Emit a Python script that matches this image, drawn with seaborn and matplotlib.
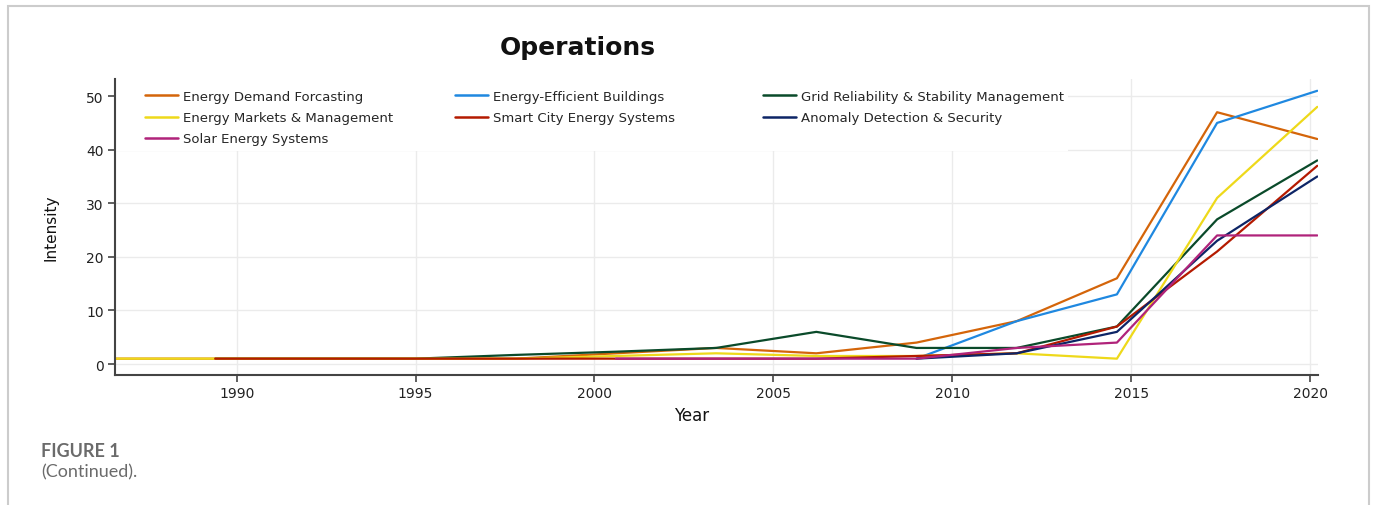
import numpy as np
import pandas as pd
import matplotlib
matplotlib.use("Agg")
import matplotlib.pyplot as plt
from matplotlib.lines import Line2D
from matplotlib.legend import Legend
from matplotlib.patches import Rectangle
import seaborn as sns

nan = np.nan
years = [1986.6, 1989.4, 1992.2, 1995.0, 1997.8, 2000.6, 2003.4,
         2006.2, 2009.0, 2011.8, 2014.6, 2017.4, 2020.2]

demand = [1, 1, 1, 1, 1, 2, 3, 2, 4, 8, 16, 47, 42]
efficient = [nan, nan, nan, nan, nan, nan, nan, nan, 1, 8, 13, 45, 51]
grid_rel = [nan, 1, 1, 1, 1.7, 2.3, 3, 6, 3, 3, 7, 27, 38]
markets = [1, 1, 1, 1, 1, 1.5, 2, 1.5, 1.5, 2, 1, 31, 48]
smart_city = [nan, 1, 1, 1, 1, 1, 1, 1, 1.5, 2, 7, 21, 37]
anomaly = [nan, nan, nan, nan, nan, nan, nan, nan, 1, 2, 6, 23, 35]
solar = [nan, nan, nan, nan, nan, 1, 1, 1, 1, 3, 4, 24, 24]

topics = ["Energy Demand Forcasting", "Energy-Efficient Buildings",
          "Grid Reliability & Stability Management", "Energy Markets & Management",
          "Smart City Energy Systems", "Anomaly Detection & Security",
          "Solar Energy Systems"]
series = [demand, efficient, grid_rel, markets, smart_city, anomaly, solar]
colors = ["#d4650a", "#1f88e0", "#0a4a2a", "#eed91a", "#b41a00", "#0d2566", "#b0237a"]
palette = dict(zip(topics, colors))

frames = []
for name, vals in zip(topics, series):
    frames.append(pd.DataFrame({"Year": years, "Intensity": vals, "Topic": name}))
df = pd.concat(frames).dropna()

sns.set_style("whitegrid")
plt.rcParams["font.family"] = ["DejaVu Sans"]

fig = plt.figure(figsize=(13.75, 5.06), dpi=100)
ax = fig.add_axes([115/1375, 1 - 376/506, 1203/1375, 296/506])

sns.lineplot(data=df, x="Year", y="Intensity", hue="Topic", hue_order=topics,
             palette=palette, linewidth=1.6, legend=False, ax=ax)

ax.set_xlim(1986.6, 2020.22)
ax.set_ylim(-2.05, 53.2)
ax.set_xticks([1990, 1995, 2000, 2005, 2010, 2015, 2020])
ax.set_yticks([0, 10, 20, 30, 40, 50])
ax.grid(color="#ebebeb", linewidth=1.0)
for s in ["top", "right"]:
    ax.spines[s].set_visible(False)
for s in ["left", "bottom"]:
    ax.spines[s].set_color("#444444")
    ax.spines[s].set_linewidth(1.5)
ax.tick_params(axis="both", which="both", length=5, width=1.2, color="#444444",
               labelsize=10, labelcolor="#222222", pad=3, bottom=True, left=True)

ax.set_xlabel("Year", fontsize=12, color="#111111")
ax.xaxis.set_label_coords((692 - 115) / 1203, -0.105)
ax.set_ylabel("Intensity", fontsize=11, color="#111111")
ax.yaxis.set_label_coords((58 - 115) / 1203, 0.5)

# white box behind the legend (hides gridlines)
ax.add_patch(Rectangle((0, (376 - 152) / 296), (1068 - 115) / 1203, 1,
                       transform=ax.transAxes, facecolor="white",
                       edgecolor="none", zorder=1, clip_on=False))

cols = [[0, 3, 6], [1, 4], [2, 5]]
col_x = [145, 455, 763]
for idx, cx in zip(cols, col_x):
    handles = [Line2D([0], [0], color=colors[i], lw=1.8) for i in idx]
    labels = [topics[i] for i in idx]
    leg = Legend(ax, handles, labels, loc="upper left",
                 bbox_to_anchor=((cx - 115) / 1203, (376 - 91) / 296),
                 frameon=False, fontsize=9.5, handlelength=2.5,
                 handletextpad=0.4, labelspacing=0.62, borderpad=0,
                 borderaxespad=0)
    leg.set_zorder(5)
    ax.add_artist(leg)

fig.text(578 / 1375, 1 - 48 / 506, "Operations", fontsize=18, fontweight="bold",
         ha="center", va="center", color="#111111")

fig.text(41 / 1375, 1 - 452 / 506, "FIGURE 1", fontsize=13, fontweight="bold",
         family="Lato", color="#6b6b6b", ha="left", va="center")
fig.text(41 / 1375, 1 - 472 / 506, "(Continued).", fontsize=13,
         family="Lato", color="#6b6b6b", ha="left", va="center")

# page frame
fig.add_artist(Rectangle((8 / 1375, -0.1), (1369 - 8) / 1375, 1.1 - 7 / 506,
                         transform=fig.transFigure, facecolor="none",
                         edgecolor="#cccccc", linewidth=1.5))

fig.savefig("out.png", dpi=100)
